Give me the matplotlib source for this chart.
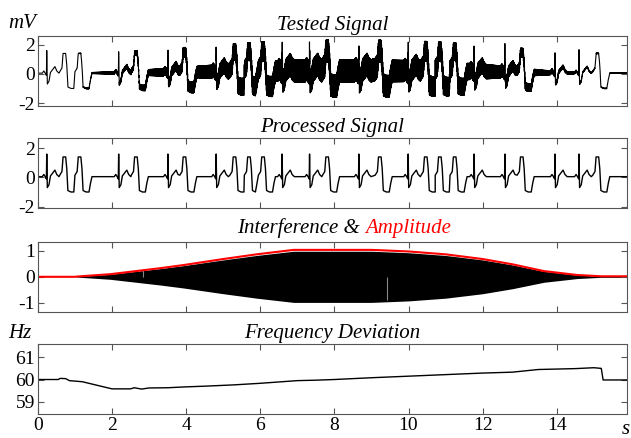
import numpy as np
from matplotlib import pyplot as plt

plt.rcParams['font.family'] = ['Liberation Serif', 'DejaVu Serif']
plt.rcParams['axes.unicode_minus'] = False

# beat times (s)
n_beats = [0.24, 2.18, 3.51, 4.81, 6.59, 7.33, 8.66, 9.99, 11.77, 12.6, 13.95, 14.6]
v_beats = [0.69, 1.1, 2.62, 3.93, 5.28, 5.67, 6.05, 7.78, 9.2, 10.44, 10.82, 11.22, 13.03, 15.07]

# beat shapes: offset from beat time (s), value (mV)
n_dt = [-0.12, -0.08, -0.04, -0.01, 0.0, 0.015, 0.06, 0.1, 0.16, 0.22, 0.27, 0.33]
n_mv = [0.05, 0.2, 0.05, -0.1, 1.6, -0.7, -0.5, 0.1, 0.3, 0.5, 0.2, 0.05]
v_dt = [-0.1, -0.04, -0.01, 0.06, 0.09, 0.12, 0.2, 0.28, 0.32, 0.36]
v_mv = [0.15, 0.4, 1.4, 1.4, 0.6, -0.9, -1.0, -1.0, -0.4, 0.05]

# interference amplitude (red line)
env_t = [0.0, 1.0, 1.05, 1.95, 3.3, 3.93, 5.0, 5.9, 6.9, 9.0, 10.0, 11.0, 12.0, 12.8, 13.65, 14.55, 15.2, 15.9]
env_v = [0.0, 0.0, 0.01, 0.1, 0.33, 0.45, 0.68, 0.86, 1.03, 1.03, 0.97, 0.86, 0.68, 0.48, 0.22, 0.07, 0.02, 0.02]

# frequency deviation
f_t = [0, 0.55, 0.6, 0.75, 0.85, 1.2, 1.5, 1.9, 2.0, 2.5, 2.6, 2.7, 2.8, 3.0, 3.5, 4.0, 4.5,
       5.3, 6.0, 7.0, 7.5, 8.0, 9.0, 10.0, 11.0, 12.0, 12.8, 13.5, 14.0, 14.5, 15.0, 15.2, 15.25, 15.9]
f_hz = [60.0, 60.0, 60.05, 60.04, 59.95, 59.9, 59.78, 59.62, 59.58, 59.58, 59.63, 59.6, 59.57, 59.62,
        59.63, 59.67, 59.7, 59.76, 59.83, 59.95, 59.97, 60.0, 60.08, 60.15, 60.22, 60.29, 60.33,
        60.45, 60.47, 60.49, 60.53, 60.5, 59.98, 59.98]

T_END = 15.9

# assemble processed ECG vertices from beats
beats = sorted([(t, n_dt, n_mv) for t in n_beats] + [(t, v_dt, v_mv) for t in v_beats])
ecg_t, ecg_v = [0.0], [0.05]
for i, (t0, dts, mvs) in enumerate(beats):
    nxt = beats[i + 1][0] + beats[i + 1][1][0] if i + 1 < len(beats) else T_END
    for dt, mv in zip(dts, mvs):
        if ecg_t[-1] < t0 + dt < nxt:
            ecg_t.append(t0 + dt)
            ecg_v.append(mv)
ecg_t.append(T_END)
ecg_v.append(0.05)

# tested = ecg + interference, sampled at the crests of the hum
grid = np.arange(0, T_END, 0.004)
ecg_g = np.interp(grid, ecg_t, ecg_v)
env_g = np.interp(grid, env_t, env_v)
crest = np.where(np.arange(len(grid)) % 2 == 0, 1.0, -1.0)
tested = ecg_g + 0.15 * env_g + 0.75 * env_g * crest

fig = plt.figure(figsize=(6.31, 4.38), dpi=100)
L, W, H = 0.060, 0.934, 0.160
axs = [fig.add_axes([L, b, W, H]) for b in (0.758, 0.525, 0.288, 0.0548)]

ax1, ax2, ax3, ax4 = axs
ax1.plot(grid, tested, color='black', lw=0.8)
ax1.set_ylim(-2.2, 2.6)
ax1.set_yticks([-2, 0, 2])

ax2.plot(ecg_t, ecg_v, color='black', lw=1.0)
ax2.set_ylim(-2.1, 2.7)
ax2.set_yticks([-2, 0, 2])

ax3.fill_between(env_t, [-0.95 * e for e in env_v], [0.95 * e for e in env_v], color='black', lw=0)
ax3.vlines([2.84, 9.42], [0, -0.9], [0.3, 0], color='#888888', lw=0.8)
ax3.plot(env_t, env_v, color='red', lw=1.5)
ax3.set_ylim(-1.34, 1.34)
ax3.set_yticks([-1, 0, 1])

ax4.plot(f_t, f_hz, color='black', lw=1.0)
ax4.set_ylim(58.45, 61.6)
ax4.set_yticks([59, 60, 61])

for ax in axs:
    ax.set_xlim(0, T_END)
    ax.set_xticks(range(0, 15, 2))
    ax.tick_params(direction='in', top=True, right=True, length=4, labelsize=14,
                   color='#555555', pad=2)
    for sp in ax.spines.values():
        sp.set_color('#555555')
    if ax is not ax4:
        ax.tick_params(labelbottom=False)

tkw = dict(fontsize=15, style='italic', pad=4)
ax1.set_title('Tested Signal', **tkw)
ax2.set_title('Processed Signal', **tkw)
ax4.set_title('Frequency Deviation', **tkw)
ax3.text(0.546, 1.05, 'Interference &', transform=ax3.transAxes, ha='right', va='bottom',
         fontsize=15, style='italic')
ax3.text(0.556, 1.05, 'Amplitude', transform=ax3.transAxes, ha='left', va='bottom',
         fontsize=15, style='italic', color='red')

ax1.text(-0.051, 1.11, 'mV', transform=ax1.transAxes, ha='left', va='baseline',
         fontsize=15, style='italic')
ax4.text(-0.051, 1.09, 'Hz', transform=ax4.transAxes, ha='left', va='baseline',
         fontsize=15, style='italic')
ax4.text(0.997, -0.28, 's', transform=ax4.transAxes, ha='center', va='baseline',
         fontsize=15, style='italic')

fig.savefig('out.png', dpi=100)
